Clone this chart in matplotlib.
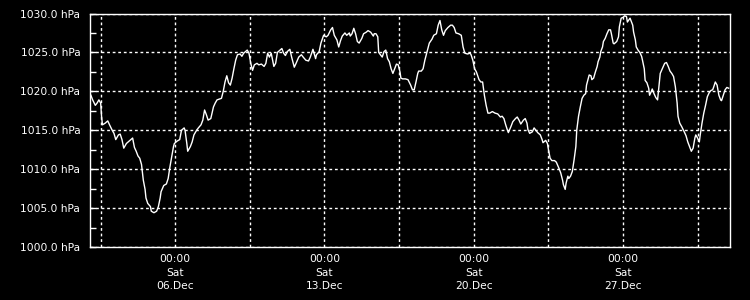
import matplotlib
matplotlib.use("Agg")
import matplotlib.pyplot as plt
import matplotlib.dates as mdates
import matplotlib.ticker as mticker
import numpy as np
import pandas as pd

# hours since 2014-12-02 00:00
hours = [1, 3, 6, 8, 10, 12, 13, 14, 17, 20, 22, 25, 27, 29, 32, 34, 36, 38, 41, 45,
         48, 50, 52, 54, 56, 58, 60, 62, 63, 65, 68, 69, 72, 75, 77, 79, 80, 83, 86, 88,
         90, 92, 94, 95, 98, 101, 103, 106, 107, 109, 110, 113, 115, 117, 120, 122, 125, 127, 129, 131,
         133, 136, 139, 141, 143, 148, 150, 152, 154, 156, 158, 160, 162, 164, 166, 169, 171, 173, 175, 177,
         179, 181, 183, 185, 188, 190, 193, 196, 198, 200, 202, 204, 207, 209, 211, 213, 216, 218, 220, 222,
         225, 227, 230, 232, 235, 238, 240, 243, 246, 248, 251, 252, 254, 255, 258, 260, 263, 266, 268, 271,
         273, 275, 278, 280, 282, 284, 287, 289, 292, 293, 295, 297, 299, 301, 303, 306, 308, 311, 313, 316,
         319, 320, 322, 324, 325, 327, 329, 331, 333, 335, 337, 339, 341, 343, 345, 347, 349, 350, 352, 355,
         358, 361, 363, 365, 367, 369, 370, 373, 375, 377, 380, 382, 385, 387, 390, 392, 394, 396, 398, 400,
         403, 406, 408, 410, 412, 415, 418, 420, 422, 425, 428, 429, 431, 433, 435, 438, 440, 442, 444, 446,
         448, 450, 453, 456, 459, 462, 464, 466, 468, 470, 471, 474, 476, 479, 481, 483, 485, 488, 490, 492,
         493, 495, 498, 500, 502, 504, 507, 509, 510, 513, 515, 516, 518, 520, 523, 525, 528, 530, 532, 533,
         535, 536, 538, 539, 541, 543, 545, 547, 548, 550, 552, 554, 556, 558, 559, 561, 562, 564, 565, 567,
         569, 571, 572, 574, 575, 577, 578, 580, 582, 584, 586, 587, 589, 590, 593, 595, 596, 598, 600, 602,
         604, 605, 608, 609, 611, 612, 614, 615, 617, 619, 621, 622, 624, 625, 627, 629, 630, 632, 633, 635,
         637, 639, 640, 642, 645, 647, 649, 651, 653, 655, 657, 659, 661, 662, 664, 666, 669, 671, 673, 675,
         677, 679, 681, 682, 684, 686, 687, 689, 691, 693, 695, 697, 699, 701, 702, 704, 706, 708, 710, 711,
         713, 715, 717, 719]

pressure = [1019.5, 1018.9, 1018.2, 1018.5, 1018.9, 1018.5, 1016.8, 1015.7, 1015.9, 1016.2,
            1015.7, 1015.0, 1014.6, 1013.8, 1014.4, 1014.5, 1013.8, 1012.7, 1013.3, 1013.7,
            1014.0, 1012.8, 1012.3, 1011.7, 1011.4, 1010.6, 1008.6, 1007.4, 1006.3, 1005.6,
            1005.2, 1004.6, 1004.4, 1004.6, 1005.2, 1006.3, 1007.1, 1007.9, 1008.1, 1008.8,
            1010.3, 1011.6, 1012.9, 1013.3, 1013.6, 1013.8, 1015.0, 1015.3, 1015.0, 1013.3,
            1012.3, 1012.9, 1013.5, 1014.4, 1015.0, 1015.3, 1015.7, 1016.3, 1017.6, 1017.0,
            1016.3, 1016.5, 1018.0, 1018.5, 1018.9, 1019.1, 1020.0, 1021.2, 1022.0, 1021.1,
            1020.8, 1021.7, 1022.9, 1024.0, 1024.7, 1024.8, 1024.5, 1024.9, 1025.1, 1025.3,
            1024.9, 1023.6, 1022.7, 1023.4, 1023.6, 1023.4, 1023.5, 1023.2, 1023.6, 1024.9,
            1024.4, 1024.9, 1023.2, 1023.6, 1025.0, 1025.2, 1025.5, 1024.9, 1024.6, 1025.1,
            1025.4, 1024.4, 1023.1, 1023.6, 1024.4, 1024.7, 1024.4, 1024.0, 1023.9, 1024.4,
            1025.4, 1025.0, 1024.2, 1024.7, 1025.1, 1026.2, 1027.2, 1027.0, 1027.2, 1027.9,
            1028.2, 1027.2, 1026.6, 1025.7, 1026.5, 1027.1, 1027.5, 1027.2, 1027.5, 1027.1,
            1027.4, 1028.1, 1027.4, 1026.4, 1026.2, 1026.8, 1027.4, 1027.6, 1027.8, 1027.6,
            1027.1, 1027.4, 1027.4, 1027.0, 1025.0, 1024.7, 1024.4, 1025.1, 1025.3, 1024.2,
            1023.8, 1022.9, 1022.3, 1022.9, 1023.5, 1023.4, 1022.5, 1021.7, 1021.6, 1021.6,
            1021.5, 1020.8, 1020.2, 1020.2, 1021.2, 1022.3, 1022.6, 1022.6, 1022.9, 1024.0,
            1025.3, 1026.2, 1026.7, 1027.2, 1027.4, 1028.5, 1029.1, 1027.9, 1027.2, 1027.8,
            1028.2, 1028.5, 1028.5, 1028.2, 1027.5, 1027.4, 1027.2, 1025.7, 1024.9, 1024.8,
            1024.9, 1024.7, 1024.0, 1022.9, 1022.5, 1021.5, 1021.2, 1021.2, 1019.5, 1018.2,
            1017.2, 1017.2, 1017.4, 1017.2, 1017.1, 1016.7, 1016.8, 1016.5, 1015.7, 1015.0,
            1014.7, 1015.5, 1016.1, 1016.5, 1016.7, 1016.3, 1015.8, 1016.3, 1016.5, 1015.9,
            1015.1, 1014.6, 1014.8, 1015.3, 1015.0, 1014.7, 1014.4, 1013.8, 1013.4, 1013.7,
            1013.3, 1012.6, 1011.4, 1011.1, 1011.1, 1010.9, 1010.1, 1009.5, 1008.6, 1008.0,
            1007.4, 1008.2, 1009.1, 1008.8, 1009.1, 1009.7, 1011.2, 1012.9, 1015.0, 1016.8,
            1018.0, 1019.1, 1019.5, 1019.7, 1020.8, 1021.7, 1022.1, 1022.0, 1021.5, 1021.7,
            1022.5, 1023.2, 1023.8, 1024.4, 1025.1, 1025.7, 1026.4, 1026.8, 1027.4, 1027.9,
            1027.9, 1027.4, 1026.2, 1026.1, 1026.4, 1027.0, 1028.3, 1029.4, 1029.5, 1029.7,
            1029.6, 1028.9, 1029.4, 1029.1, 1028.5, 1027.6, 1026.6, 1025.7, 1025.3, 1025.0,
            1024.5, 1024.0, 1022.9, 1021.4, 1021.1, 1020.4, 1019.5, 1020.0, 1020.3, 1019.7,
            1019.2, 1018.9, 1020.0, 1022.3, 1023.1, 1023.6, 1023.7, 1023.2, 1022.6, 1022.3,
            1021.9, 1020.6, 1018.5, 1016.8, 1015.9, 1015.5, 1014.8, 1014.3, 1013.5, 1012.9,
            1012.3, 1012.7, 1014.0, 1014.4, 1014.0, 1013.5, 1014.4, 1015.9, 1017.2, 1018.2,
            1019.3, 1019.8, 1020.1, 1020.2, 1020.5, 1021.2, 1020.8, 1019.5, 1018.9, 1018.8,
            1019.5, 1020.2, 1020.5, 1020.4]

start = pd.Timestamp("2014-12-02 00:00")
end = pd.Timestamp("2015-01-01 00:00")
major_days = ["2014-12-06", "2014-12-13", "2014-12-20", "2014-12-27"]
minor_days = ["2014-12-02 12:00", "2014-12-09 12:00", "2014-12-16 12:00",
              "2014-12-23 12:00", "2014-12-30 12:00"]

times = [start + pd.Timedelta(hours=h) for h in hours]

fig = plt.figure(figsize=(7.5, 3.0), dpi=100, facecolor="black")
ax = fig.add_axes([0.12, 0.1767, 0.8527, 0.7783], facecolor="black")

ax.plot(times, pressure, color="white", linewidth=1.0)

ax.set_xlim(start, end)
ax.set_ylim(1000, 1030)

ax.xaxis.set_major_locator(mticker.FixedLocator(mdates.date2num(pd.to_datetime(major_days))))
ax.xaxis.set_minor_locator(mticker.FixedLocator(mdates.date2num(pd.to_datetime(minor_days))))
ax.xaxis.set_major_formatter(mdates.DateFormatter("%H:%M\n%a\n%d.%b"))

ax.yaxis.set_major_locator(mticker.MultipleLocator(5))
ax.yaxis.set_minor_locator(mticker.MultipleLocator(2.5))
ax.yaxis.set_major_formatter(mticker.FuncFormatter(lambda v, p: f"{v:.1f} hPa"))

for s in ax.spines.values():
    s.set_color("white")
    s.set_linewidth(1.0)

ax.tick_params(axis="y", which="both", direction="in", length=4, width=1,
               color="white", labelcolor="white", labelsize=7.7, pad=7)
ax.tick_params(axis="x", which="both", length=0, labelcolor="white",
               labelsize=7.7, pad=5)
for lab in ax.get_xticklabels():
    lab.set_linespacing(1.45)

grid_kw = dict(color="white", linewidth=1.0, linestyle=(0, (2, 2)))
ax.grid(True, axis="y", which="major", **grid_kw)
ax.grid(True, axis="x", which="both", **grid_kw)

fig.savefig("out.png", dpi=100, facecolor="black")
